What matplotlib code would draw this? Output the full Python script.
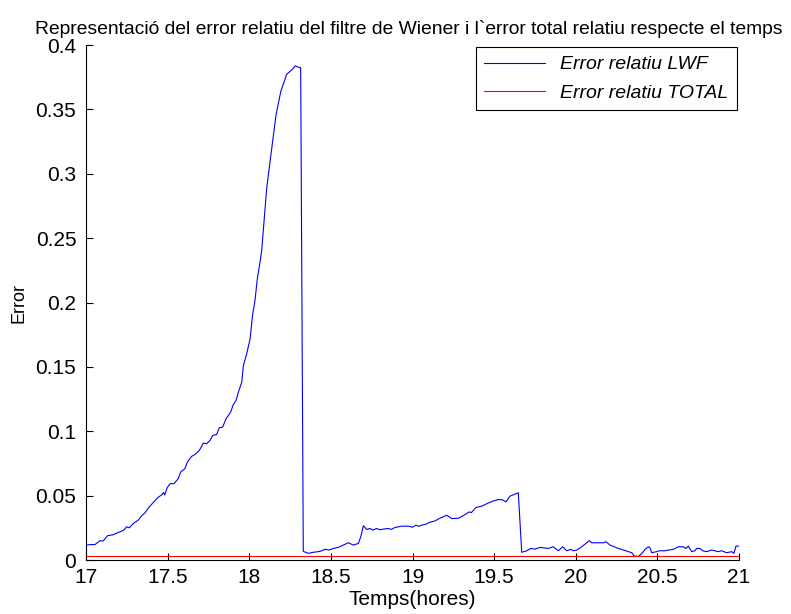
import matplotlib
matplotlib.use("Agg")
from matplotlib import pyplot as plt

plt.rcParams['font.family'] = ['Liberation Sans', 'DejaVu Sans']

# Hours and relative error of the Wiener filter
hores = [17.0, 17.03, 17.055, 17.086, 17.106, 17.131, 17.167, 17.198, 17.229, 17.249,
         17.265, 17.29, 17.32, 17.341, 17.361, 17.388, 17.412, 17.443, 17.464, 17.475,
         17.482, 17.498, 17.515, 17.539, 17.565, 17.58, 17.606, 17.621, 17.647, 17.668,
         17.694, 17.719, 17.739, 17.76, 17.776, 17.8, 17.817, 17.837, 17.858, 17.886,
         17.902, 17.919, 17.933, 17.954, 17.964, 17.984, 18.005, 18.021, 18.035, 18.049,
         18.062, 18.076, 18.107, 18.137, 18.164, 18.193, 18.229, 18.254, 18.266, 18.28,
         18.294, 18.311, 18.315, 18.331, 18.362, 18.392, 18.433, 18.464, 18.49, 18.515,
         18.545, 18.576, 18.607, 18.638, 18.668, 18.683, 18.699, 18.719, 18.74, 18.756,
         18.781, 18.8, 18.821, 18.852, 18.87, 18.893, 18.934, 18.974, 19.0, 19.021,
         19.04, 19.056, 19.083, 19.107, 19.138, 19.168, 19.21, 19.24, 19.28, 19.315,
         19.348, 19.36, 19.389, 19.424, 19.458, 19.491, 19.526, 19.55, 19.573, 19.597,
         19.628, 19.648, 19.669, 19.70, 19.724, 19.75, 19.781, 19.80, 19.832, 19.862,
         19.893, 19.92, 19.945, 19.969, 19.985, 20.006, 20.036, 20.057, 20.083, 20.098,
         20.169, 20.185, 20.21, 20.261, 20.312, 20.343, 20.357, 20.383, 20.404, 20.424,
         20.445, 20.455, 20.465, 20.496, 20.512, 20.547, 20.567, 20.598, 20.628, 20.659,
         20.675, 20.689, 20.71, 20.73, 20.741, 20.76, 20.777, 20.801, 20.832, 20.852,
         20.87, 20.893, 20.924, 20.955, 20.969, 20.981, 21.0]
error_lwf = [0.0116, 0.012, 0.012, 0.015, 0.0148, 0.0188, 0.0197, 0.0214, 0.023, 0.0258,
             0.025, 0.0284, 0.031, 0.0344, 0.0366, 0.0413, 0.0447, 0.0488, 0.0506, 0.0524,
             0.0505, 0.0563, 0.0593, 0.0593, 0.0632, 0.0684, 0.071, 0.0761, 0.0805, 0.082,
             0.0851, 0.0908, 0.0903, 0.0929, 0.0967, 0.0975, 0.1027, 0.1032, 0.1097, 0.1148,
             0.1207, 0.1238, 0.1303, 0.138, 0.1509, 0.16, 0.1716, 0.191, 0.2012, 0.218,
             0.2283, 0.24, 0.289, 0.3186, 0.3457, 0.3638, 0.3772, 0.38, 0.3813, 0.3837,
             0.3832, 0.3824, 0.3824, 0.0067, 0.0052, 0.006, 0.0067, 0.0083, 0.0078, 0.009,
             0.0098, 0.0116, 0.0134, 0.0116, 0.0129, 0.018, 0.0266, 0.0238, 0.0245, 0.0232,
             0.0245, 0.0235, 0.024, 0.0245, 0.0238, 0.0253, 0.0263, 0.0263, 0.0255, 0.0271,
             0.0262, 0.0271, 0.0279, 0.0294, 0.0304, 0.0325, 0.0348, 0.0322, 0.0324, 0.0348,
             0.0374, 0.0368, 0.0408, 0.0418, 0.0439, 0.0457, 0.047, 0.0468, 0.0452, 0.0496,
             0.0512, 0.0522, 0.006, 0.0072, 0.009, 0.0085, 0.0098, 0.0095, 0.009, 0.0103,
             0.0072, 0.0103, 0.0072, 0.0083, 0.0072, 0.0077, 0.0103, 0.0124, 0.015, 0.0134,
             0.0134, 0.0142, 0.0116, 0.009, 0.007, 0.0057, 0.0031, 0.0028, 0.0049, 0.0083,
             0.0103, 0.0095, 0.0057, 0.0065, 0.0072, 0.0072, 0.0077, 0.0083, 0.0103, 0.0103,
             0.009, 0.0108, 0.0065, 0.0072, 0.009, 0.009, 0.0072, 0.0065, 0.0077, 0.0072,
             0.0065, 0.0072, 0.0057, 0.0065, 0.0052, 0.0108, 0.0108]

# Total relative error (flat)
hores_total = [17.0, 21.0]
error_total = [0.0035, 0.0035]

fig = plt.figure(figsize=(7.91, 6.14), dpi=100)
ax = fig.add_axes([0.1087, 0.0879, 0.8256, 0.8388])

ax.plot(hores, error_lwf, color='#0000ff', linewidth=0.8, label='Error relatiu LWF')
ax.plot(hores_total, error_total, color='#ff0000', linewidth=0.8, label='Error relatiu TOTAL')

ax.set_xlim(17, 21)
ax.set_ylim(0, 0.4)
ax.set_xticks([17, 17.5, 18, 18.5, 19, 19.5, 20, 20.5, 21])
ax.set_xticklabels(['17', '17.5', '18', '18.5', '19', '19.5', '20', '20.5', '21'])
ax.set_yticks([0, 0.05, 0.1, 0.15, 0.2, 0.25, 0.3, 0.35, 0.4])
ax.set_yticklabels(['0', '0.05', '0.1', '0.15', '0.2', '0.25', '0.3', '0.35', '0.4'])
ax.tick_params(direction='in', length=5, labelsize=15)
ax.tick_params(axis='x', pad=6)
ax.tick_params(axis='y', pad=7)

ax.spines['top'].set_visible(False)
ax.spines['right'].set_visible(False)

title = ax.set_title("Representació del error relatiu del filtre de Wiener i l`error total relatiu respecte el temps",
                     fontsize=13.9, pad=8)
title.set_x(0.494)
ax.set_xlabel("Temps(hores)", fontsize=15, labelpad=2)
ax.set_ylabel("Error", fontsize=13, labelpad=6)

leg = ax.legend(loc='upper right', fancybox=False, framealpha=1, edgecolor='black',
                prop={'style': 'italic', 'size': 14}, handlelength=3.1,
                borderaxespad=0.1, borderpad=0.45, labelspacing=0.55)
leg.get_frame().set_linewidth(0.8)

fig.savefig("out.png", dpi=100)
